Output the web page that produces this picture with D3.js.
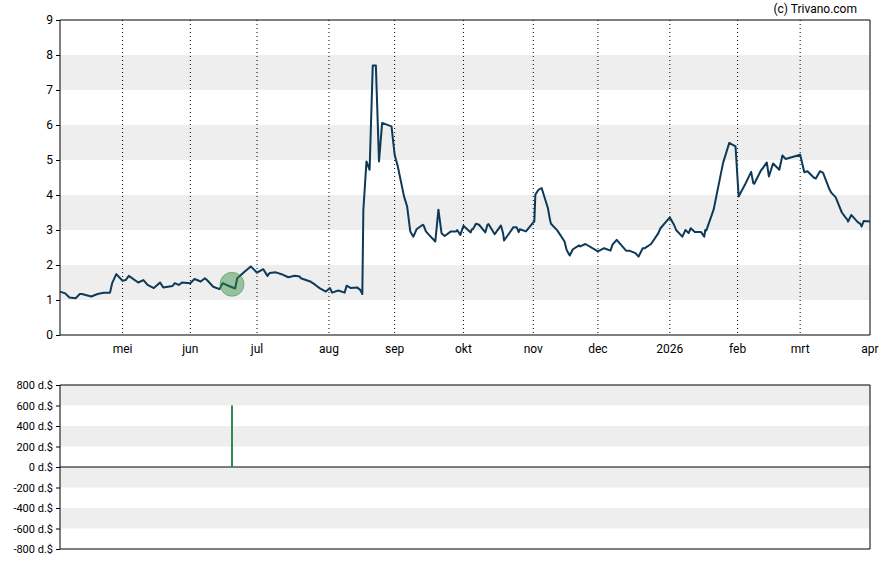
<!DOCTYPE html>
<html>
<head>
<meta charset="utf-8">
<script src="https://cdn.jsdelivr.net/npm/d3@7"></script>
<style>
body{margin:0;background:#fff;}
text{font-family:Roboto, "Liberation Sans", sans-serif;}
</style>
</head>
<body>
<svg id="chart" width="888" height="565"></svg>
<script>
// koers (date, value)
var priceDates = ["2025-04-03","2025-04-06","2025-04-08","2025-04-10","2025-04-12","2025-04-14","2025-04-17","2025-04-21","2025-04-23","2025-04-25","2025-04-27","2025-04-29",
"2025-05-01","2025-05-02","2025-05-05","2025-05-08","2025-05-11","2025-05-13","2025-05-15","2025-05-19","2025-05-20","2025-05-23","2025-05-25","2025-05-27","2025-05-28",
"2025-06-01","2025-06-03","2025-06-05","2025-06-07","2025-06-09","2025-06-11","2025-06-13","2025-06-16","2025-06-18","2025-06-20","2025-06-22","2025-06-25","2025-06-27",
"2025-07-01","2025-07-03","2025-07-05","2025-07-07","2025-07-09","2025-07-12","2025-07-15","2025-07-17","2025-07-20","2025-07-21","2025-07-24","2025-07-27","2025-07-29","2025-07-31",
"2025-08-02","2025-08-04","2025-08-06","2025-08-08","2025-08-10","2025-08-12","2025-08-14","2025-08-15","2025-08-17","2025-08-18","2025-08-19","2025-08-20","2025-08-21","2025-08-22","2025-08-25","2025-08-26","2025-08-29",
"2025-09-01","2025-09-02","2025-09-04","2025-09-05","2025-09-08","2025-09-09","2025-09-10","2025-09-12","2025-09-13","2025-09-15","2025-09-16","2025-09-18","2025-09-19","2025-09-22","2025-09-23","2025-09-25","2025-09-28","2025-09-29","2025-09-30",
"2025-10-01","2025-10-04","2025-10-05","2025-10-06","2025-10-07","2025-10-08","2025-10-10","2025-10-12","2025-10-13","2025-10-15","2025-10-17","2025-10-19","2025-10-20","2025-10-23","2025-10-24","2025-10-26","2025-10-27","2025-10-29",
"2025-11-01","2025-11-02","2025-11-03","2025-11-04","2025-11-05","2025-11-07","2025-11-09","2025-11-10","2025-11-12","2025-11-15","2025-11-17","2025-11-18","2025-11-19","2025-11-21","2025-11-22","2025-11-25",
"2025-12-01","2025-12-03","2025-12-05","2025-12-07","2025-12-09","2025-12-12","2025-12-15","2025-12-17","2025-12-18","2025-12-20","2025-12-22","2025-12-24","2025-12-27","2025-12-29",
"2026-01-01","2026-01-03","2026-01-05","2026-01-07","2026-01-08","2026-01-09","2026-01-11","2026-01-13","2026-01-15","2026-01-16","2026-01-17","2026-01-18","2026-01-21","2026-01-26","2026-01-28","2026-01-30",
"2026-02-02","2026-02-04","2026-02-06","2026-02-08","2026-02-09","2026-02-11","2026-02-13","2026-02-15","2026-02-17","2026-02-19","2026-02-20","2026-02-23",
"2026-03-01","2026-03-03","2026-03-04","2026-03-06","2026-03-08","2026-03-10","2026-03-11","2026-03-13","2026-03-15","2026-03-17","2026-03-19","2026-03-21","2026-03-22","2026-03-23","2026-03-24","2026-03-26","2026-03-27","2026-03-28","2026-03-30","2026-04-01"];
var priceValues = [1.24,1.19,1.07,1.05,1.17,1.17,1.10,1.17,1.21,1.21,1.48,1.74,
1.55,1.57,1.69,1.50,1.57,1.43,1.34,1.50,1.36,1.40,1.48,1.43,1.50,
1.48,1.60,1.53,1.62,1.57,1.38,1.31,1.48,1.40,1.33,1.62,1.81,1.96,
1.78,1.88,1.69,1.77,1.79,1.72,1.65,1.69,1.67,1.62,1.53,1.43,1.34,1.24,
1.34,1.21,1.27,1.21,1.41,1.34,1.36,1.29,1.17,3.58,4.96,4.72,7.70,7.70,4.96,6.06,5.96,
5.15,4.82,3.96,3.67,2.96,2.81,3.02,3.15,3.12,2.96,2.86,2.67,3.58,2.91,2.83,2.96,2.96,3.00,2.86,
3.12,2.93,3.02,3.02,3.18,3.15,2.93,3.15,3.17,2.88,3.13,2.91,2.70,3.08,3.08,2.94,3.02,2.96,
3.22,3.24,4.01,4.15,4.20,3.63,3.29,3.18,2.99,2.67,2.43,2.27,2.45,2.56,2.53,2.60,
2.39,2.48,2.41,2.58,2.72,2.41,2.41,2.34,2.24,2.48,2.48,2.60,2.91,3.05,
3.36,3.15,3.00,2.81,3.00,2.91,3.05,2.94,2.94,2.81,3.00,2.99,3.58,4.91,5.49,5.39,
3.96,4.29,4.66,4.34,4.32,4.68,4.93,4.53,4.90,4.72,5.13,5.03,
5.15,4.65,4.68,4.50,4.47,4.68,4.63,4.17,4.06,3.94,3.50,3.34,3.31,3.24,3.43,3.23,3.17,3.10,3.26,3.24];

// insider transactie
var tradeDates = ["2025-06-19"];
var tradeValues = [600];
var tradePrices = [1.45];

var priceTicks = [0,1,2,3,4,5,6,7,8,9];
var volTicks = [800,600,400,200,0,-200,-400,-600,-800];
var monthLabels = ["mei","jun","jul","aug","sep","okt","nov","dec","2026","feb","mrt","apr"];
var monthStarts = ["2025-05-01","2025-06-01","2025-07-01","2025-08-01","2025-09-01","2025-10-01","2025-11-01","2025-12-01","2026-01-01","2026-02-01","2026-03-01","2026-04-01"];

var parse = d3.timeParse("%Y-%m-%d");
var base = parse("2025-03-31");

/* weekday index (trading-day axis), weekends fall between fri and mon */
function wd(date){
	var n = 0;
	var d = new Date(base);
	while(d < date){
		var day = d.getDay();
		if(day != 0 && day != 6){ n++; }
		d.setDate(d.getDate()+1);
	}
	var dd = date.getDay();
	if(dd == 6){ n -= 0.67; }
	if(dd == 0){ n -= 0.33; }
	return n;
}

var svg = d3.select("#chart");
var L = 60, R = 870, T1 = 20, B1 = 335, T2 = 385, B2 = 549;

var x = d3.scaleLinear().domain([wd(parse("2025-04-03")), wd(parse("2026-04-01"))]).range([L, R]);
var y = d3.scaleLinear().domain([0, 9]).range([B1, T1]);
var y2 = d3.scaleLinear().domain([-800, 800]).range([B2, T2]);

// bands
[1,3,5,7].forEach(function(v){
	svg.append("rect").attr("x", L).attr("width", R-L)
		.attr("y", y(v+1)).attr("height", y(v)-y(v+1)).attr("fill", "#eeeeee");
});
[[600,800],[200,400],[-200,0],[-600,-400]].forEach(function(b){
	svg.append("rect").attr("x", L).attr("width", R-L)
		.attr("y", y2(b[1])).attr("height", y2(b[0])-y2(b[1])).attr("fill", "#eeeeee");
});

// month grid lines
monthStarts.forEach(function(m, i){
	var xx = x(wd(parse(m)));
	if(i < monthStarts.length-1){
		svg.append("line").attr("x1", xx).attr("x2", xx).attr("y1", T1).attr("y2", B1)
			.attr("stroke", "#000").attr("stroke-width", 1).attr("stroke-dasharray", "1,3");
	}
	svg.append("text").attr("x", xx).attr("y", 353).attr("text-anchor", "middle")
		.attr("font-size", 12).attr("fill", "#000").text(monthLabels[i]);
});

// axes
var ax = d3.axisLeft(y).tickValues(priceTicks).tickSize(4).tickFormat(d3.format("d"));
var g1 = svg.append("g").attr("transform", "translate(" + L + ",0)").call(ax);
g1.select(".domain").remove();
g1.selectAll("text").attr("font-size", 12).attr("fill", "#000").attr("font-family", "Roboto");

var ax2 = d3.axisLeft(y2).tickValues(volTicks).tickSize(4).tickFormat(function(d){ return d + " d.$"; });
var g2 = svg.append("g").attr("transform", "translate(" + L + ",0)").call(ax2);
g2.select(".domain").remove();
g2.selectAll("text").attr("font-size", 11).attr("fill", "#000").attr("font-family", "Liberation Sans, Arial");

// frames
svg.append("path").attr("d", "M"+L+","+T1+"V"+B1+"H"+R+"V"+T1+"Z").attr("fill","none").attr("stroke","#000");
svg.append("path").attr("d", "M"+L+","+T2+"V"+B2+"H"+R+"V"+T2+"Z").attr("fill","none").attr("stroke","#000");
svg.append("line").attr("x1", L).attr("x2", R).attr("y1", y2(0)).attr("y2", y2(0)).attr("stroke", "#000");

// price line
var pts = priceDates.map(function(d, i){ return [x(wd(parse(d))), y(priceValues[i])]; });
svg.append("path").attr("d", d3.line()(pts)).attr("fill", "none")
	.attr("stroke", "#0d3a58").attr("stroke-width", 2).attr("stroke-linejoin", "round");

// trades
tradeDates.forEach(function(d, i){
	var xx = x(wd(parse(d)));
	svg.append("circle").attr("cx", xx).attr("cy", y(tradePrices[i])).attr("r", 12)
		.attr("fill", "#2e8b3e").attr("fill-opacity", 0.45).attr("stroke", "#2e8b3e").attr("stroke-opacity", 0.5);
	svg.append("line").attr("x1", xx).attr("x2", xx).attr("y1", y2(0)).attr("y2", y2(tradeValues[i]))
		.attr("stroke", "#2e8b57").attr("stroke-width", 2);
});

svg.append("text").attr("x", 857).attr("y", 13).attr("text-anchor", "end")
	.attr("font-size", 12).attr("fill", "#000").text("(c) Trivano.com");
</script>
</body>
</html>
